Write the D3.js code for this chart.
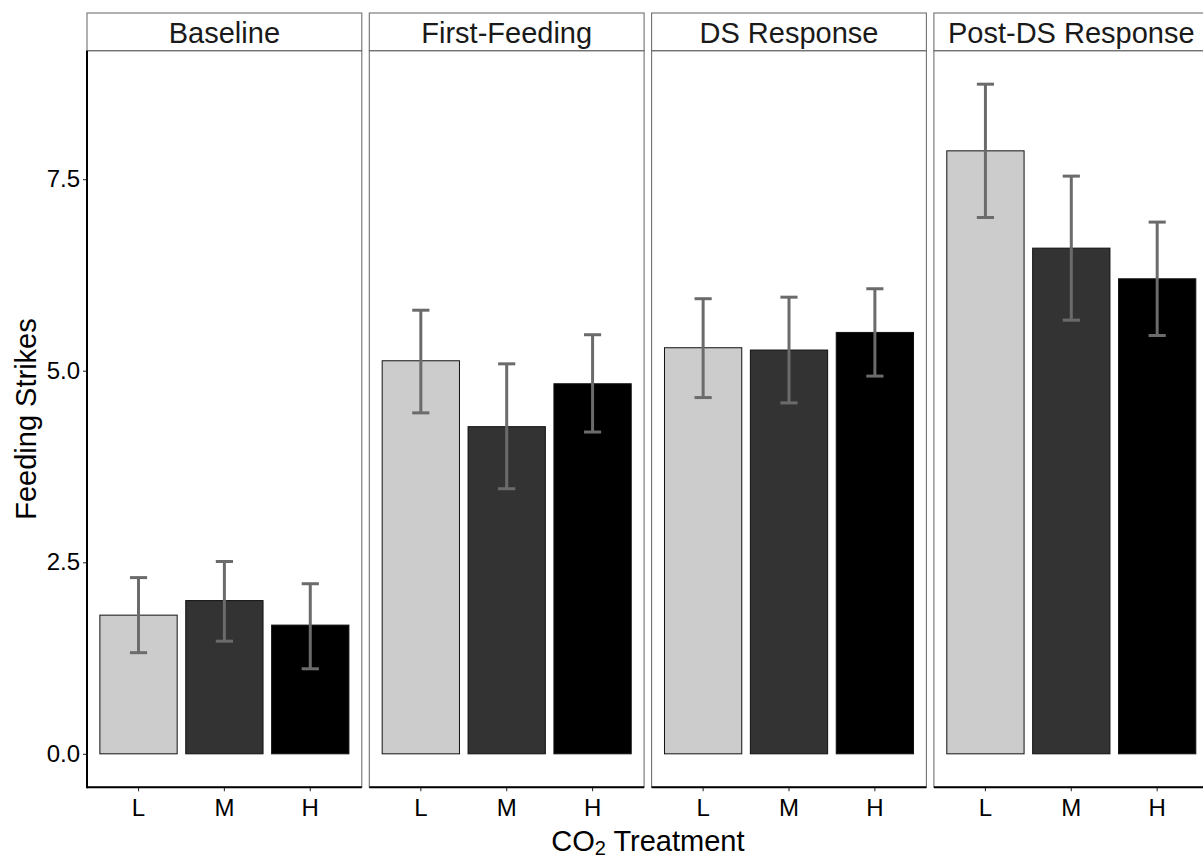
<!DOCTYPE html>
<html>
<head>
<meta charset="utf-8">
<script src="https://cdn.jsdelivr.net/npm/d3@7"></script>
<style>
  body { margin: 0; background: #fff; }
  svg { display: block; font-family: "Liberation Sans", Arial, sans-serif; }
</style>
</head>
<body>
<div class="chart"></div>
<script>
// facet panels and CO2 treatment levels
var phases = ["Baseline", "First-Feeding", "DS Response", "Post-DS Response"];
var treatments = ["L", "M", "H"];
var fills = ["#cccccc", "#333333", "#000000"];

// mean feeding strikes, one row per phase (L, M, H)
var means = [
  [1.81, 2.00, 1.68],
  [5.13, 4.27, 4.83],
  [5.30, 5.27, 5.50],
  [7.87, 6.60, 6.20]
];
// error bar ends
var lower = [
  [1.32, 1.47, 1.11],
  [4.45, 3.46, 4.20],
  [4.65, 4.58, 4.93],
  [7.00, 5.66, 5.46]
];
var upper = [
  [2.30, 2.51, 2.22],
  [5.79, 5.09, 5.47],
  [5.94, 5.96, 6.07],
  [8.74, 7.54, 6.94]
];
var yTicks = [0, 2.5, 5, 7.5];

function drawChart() {
  var width = 1203, height = 860;
  var padL = 87, padR = 1208.7, plotTop = 50.7, plotBottom = 787.3, stripTop = 13;

  // flat rows for binding
  var rows = [];
  phases.forEach(function(p, i) {
    treatments.forEach(function(t, j) {
      rows.push({phase: p, trt: t, fill: fills[j], mean: means[i][j], lo: lower[i][j], hi: upper[i][j]});
    });
  });

  var svg = d3.select(".chart").append("svg")
      .attr("width", width)
      .attr("height", height);

  var facet = d3.scaleBand()
      .domain(phases)
      .range([padL, padR])
      .paddingInner(0.0266)
      .paddingOuter(0);

  var pw = facet.bandwidth();

  var x = d3.scaleBand()
      .domain(treatments)
      .range([0, pw])
      .paddingInner(0.1)
      .paddingOuter(0.15);

  var ymax = d3.max(rows, function(d) { return d.hi; });
  var y = d3.scaleLinear()
      .domain([-0.05 * ymax, ymax * 1.05])
      .range([plotBottom, plotTop]);

  var panel = svg.selectAll("g.panel")
      .data(phases)
      .enter()
      .append("g")
      .attr("class", "panel")
      .attr("transform", function(d) { return "translate(" + facet(d) + ",0)"; });

  // strip
  panel.append("rect")
      .attr("x", 0)
      .attr("y", stripTop)
      .attr("width", pw)
      .attr("height", plotTop - stripTop)
      .attr("fill", "#fff")
      .attr("stroke", "#707070")
      .attr("stroke-width", 1.1);

  panel.append("text")
      .attr("x", pw / 2)
      .attr("y", 43)
      .attr("text-anchor", "middle")
      .style("font-size", "29px")
      .attr("fill", "#1a1a1a")
      .text(function(d) { return d; });

  // panel border
  panel.append("rect")
      .attr("x", 0)
      .attr("y", plotTop)
      .attr("width", pw)
      .attr("height", plotBottom - plotTop)
      .attr("fill", "none")
      .attr("stroke", "#707070")
      .attr("stroke-width", 1.1);

  // bars
  panel.selectAll("rect.bar")
      .data(function(p) { return rows.filter(function(r) { return r.phase == p; }); })
      .enter()
      .append("rect")
      .attr("class", "bar")
      .attr("x", function(d) { return x(d.trt); })
      .attr("y", function(d) { return y(d.mean); })
      .attr("width", x.bandwidth())
      .attr("height", function(d) { return y(0) - y(d.mean); })
      .attr("fill", function(d) { return d.fill; })
      .attr("stroke", "#111")
      .attr("stroke-width", 1);

  // error bars
  var eb = panel.selectAll("g.err")
      .data(function(p) { return rows.filter(function(r) { return r.phase == p; }); })
      .enter()
      .append("g")
      .attr("class", "err")
      .attr("stroke", "#6b6b6b")
      .attr("stroke-width", 3)
      .attr("transform", function(d) { return "translate(" + (x(d.trt) + x.bandwidth() / 2) + ",0)"; });

  var capW = x.step() * 0.2;

  eb.append("line")
      .attr("x1", 0).attr("x2", 0)
      .attr("y1", function(d) { return y(d.lo); })
      .attr("y2", function(d) { return y(d.hi); });
  eb.append("line")
      .attr("x1", -capW / 2).attr("x2", capW / 2)
      .attr("y1", function(d) { return y(d.hi); })
      .attr("y2", function(d) { return y(d.hi); });
  eb.append("line")
      .attr("x1", -capW / 2).attr("x2", capW / 2)
      .attr("y1", function(d) { return y(d.lo); })
      .attr("y2", function(d) { return y(d.lo); });

  // x axes per panel
  panel.each(function() {
    var g = d3.select(this).append("g")
        .attr("transform", "translate(0," + plotBottom + ")")
        .call(d3.axisBottom(x).tickSize(4).tickPadding(8));
    g.select(".domain").remove();
    g.selectAll(".tick line").attr("stroke", "#333").attr("stroke-width", 1.1);
    g.selectAll(".tick text").style("font-size", "24px").attr("fill", "#000");
    d3.select(this).append("line")
        .attr("x1", 0).attr("x2", pw)
        .attr("y1", plotBottom).attr("y2", plotBottom)
        .attr("stroke", "#000")
        .attr("stroke-width", 2);
  });

  // y axis
  var ya = svg.append("g")
      .attr("transform", "translate(" + padL + ",0)")
      .call(d3.axisLeft(y).tickValues(yTicks).tickFormat(d3.format(".1f")).tickSize(4).tickPadding(3));
  ya.select(".domain").remove();
  ya.selectAll(".tick line").attr("stroke", "#333").attr("stroke-width", 1.1);
  ya.selectAll(".tick text").style("font-size", "24px").attr("fill", "#000");

  svg.append("line")
      .attr("x1", padL).attr("x2", padL)
      .attr("y1", plotTop).attr("y2", plotBottom + 1)
      .attr("stroke", "#000")
      .attr("stroke-width", 2);

  // axis titles
  svg.append("text")
      .attr("transform", "translate(36," + ((plotTop + plotBottom) / 2) + ") rotate(-90)")
      .attr("text-anchor", "middle")
      .style("font-size", "29px")
      .text("Feeding Strikes");

  var xt = svg.append("text")
      .attr("x", (padL + padR) / 2)
      .attr("y", 851)
      .attr("text-anchor", "middle")
      .style("font-size", "29px");
  xt.append("tspan").text("CO");
  xt.append("tspan").attr("dy", 4).style("font-size", "20px").text("2");
  xt.append("tspan").attr("dy", -4).text(" Treatment");
}
drawChart();
</script>
</body>
</html>
